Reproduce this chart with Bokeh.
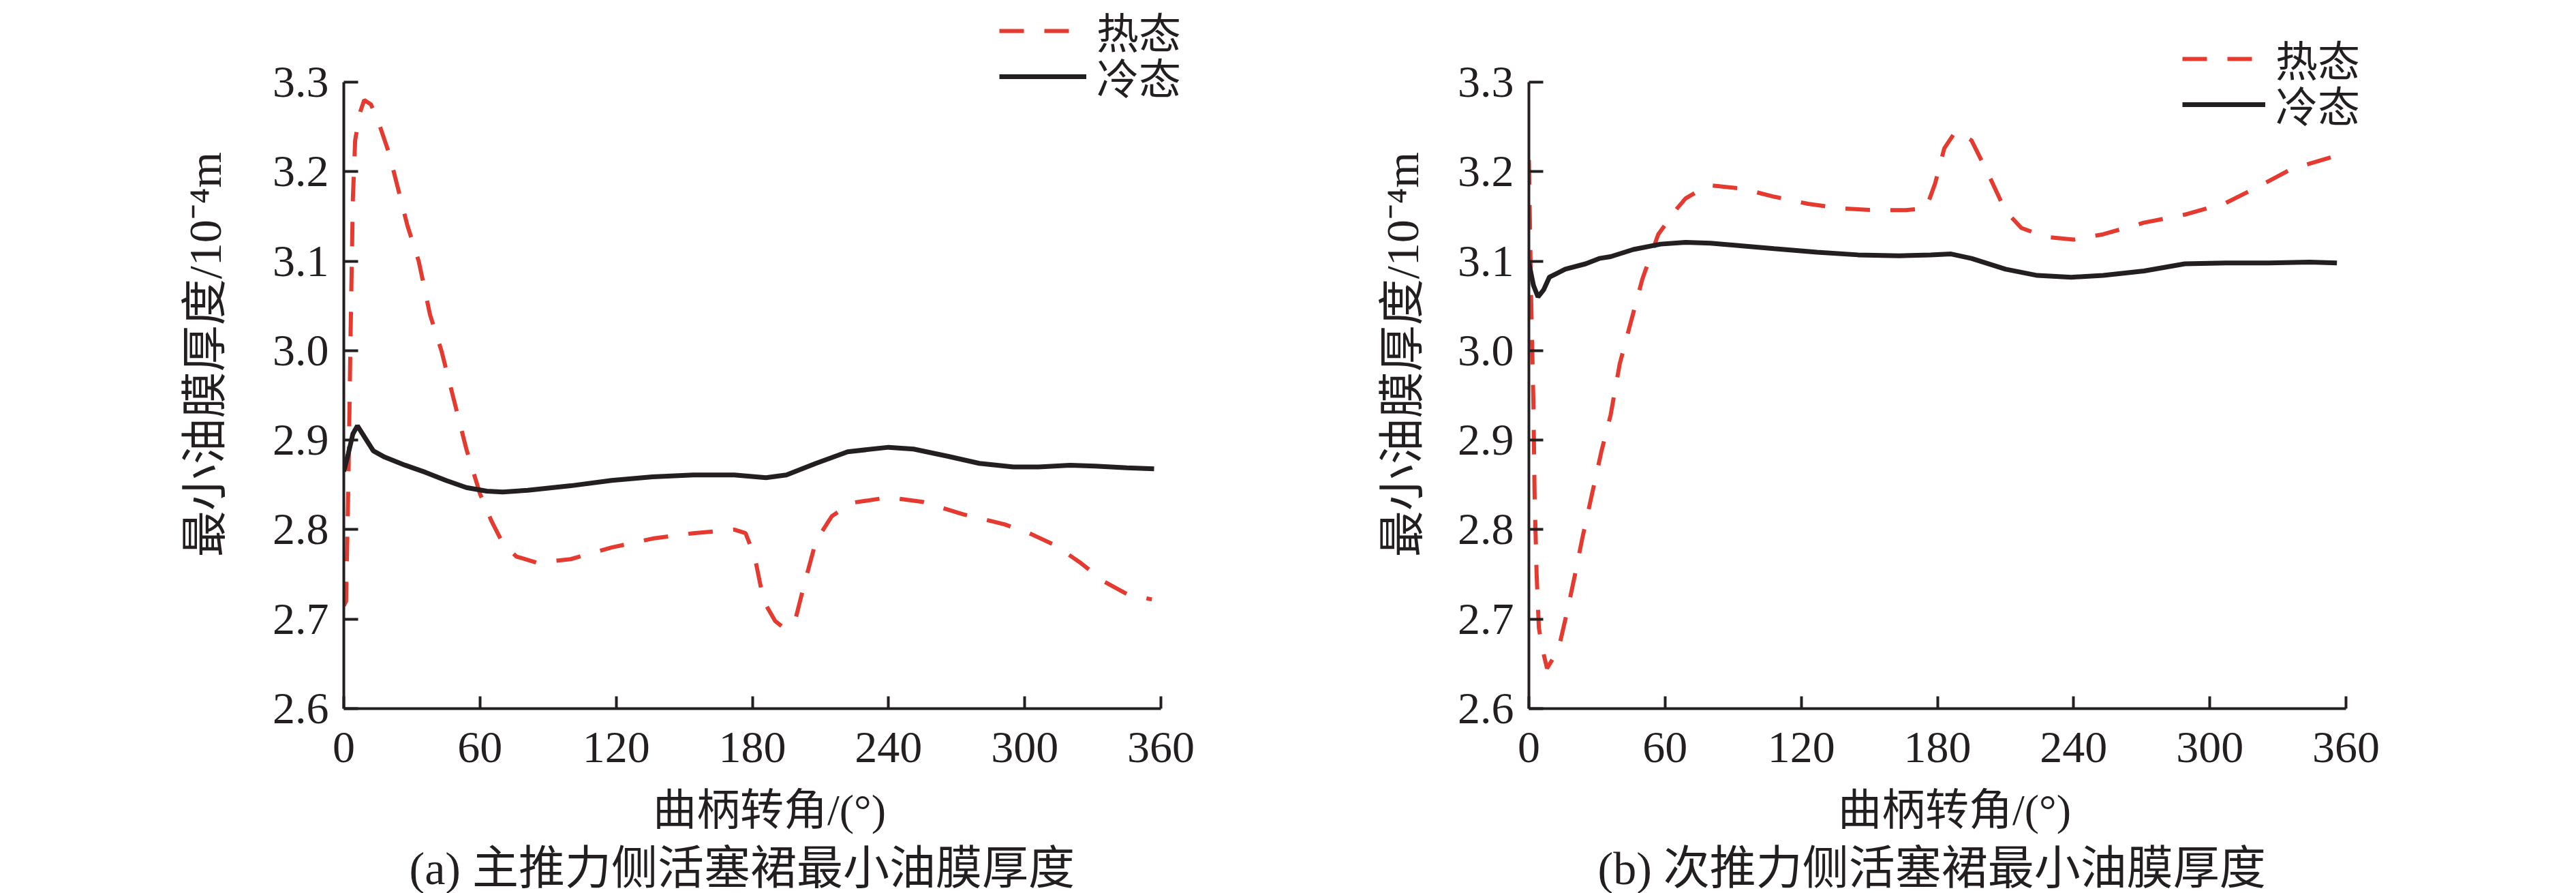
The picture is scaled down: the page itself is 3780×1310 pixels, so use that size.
from bokeh.plotting import figure
from bokeh.layouts import row
from bokeh.models import Range1d, FixedTicker, PrintfTickFormatter, Legend, LegendItem, Title
from bokeh.embed import file_html
from bokeh.resources import INLINE

# ---------------- data ----------------
x_ticks = [0, 60, 120, 180, 240, 300, 360]
y_ticks = [2.6, 2.7, 2.8, 2.9, 3.0, 3.1, 3.2, 3.3]
series_names = ["热态", "冷态"]

# (a) main thrust side
a_hot_deg = [0, 1, 2, 3, 4, 5, 7, 9, 12, 16, 20, 24, 28, 33, 38, 43, 49, 54, 60, 65, 70, 76, 85,
             100, 118, 136, 154, 172, 177, 181, 185, 190, 194, 199, 203, 208, 215, 224, 240, 255,
             273, 291, 302, 313, 324, 335, 345, 356]
a_hot_val = [2.715, 2.72, 2.85, 3.02, 3.17, 3.235, 3.265, 3.28, 3.275, 3.25, 3.22, 3.18, 3.14, 3.10,
             3.04, 3.00, 2.94, 2.89, 2.84, 2.81, 2.785, 2.77, 2.763, 2.767, 2.78, 2.79, 2.796, 2.80,
             2.796, 2.77, 2.72, 2.698, 2.69, 2.70, 2.74, 2.787, 2.815, 2.83, 2.836, 2.831, 2.817,
             2.806, 2.796, 2.783, 2.764, 2.742, 2.728, 2.722]
a_cold_deg = [0, 2, 4, 6, 9, 13, 18, 27, 36, 45, 54, 63, 70, 81, 100, 118, 136, 154, 172, 186,
              195, 208, 222, 240, 251, 266, 280, 295, 306, 320, 331, 345, 357]
a_cold_val = [2.865, 2.885, 2.907, 2.916, 2.904, 2.888, 2.881, 2.872, 2.864, 2.855, 2.847, 2.843,
              2.842, 2.844, 2.849, 2.855, 2.859, 2.861, 2.861, 2.858, 2.861, 2.874, 2.887, 2.892,
              2.890, 2.882, 2.874, 2.870, 2.870, 2.872, 2.871, 2.869, 2.868]

# (b) secondary thrust side
b_hot_deg = [0, 1, 2, 2.5, 3.4, 4.4, 6, 8, 13, 17, 20.5, 23.5, 28, 32, 36, 40, 44.5, 50, 57, 65,
             69, 79, 94, 108, 123, 137, 152, 166, 175, 179, 183, 188, 195, 203, 210, 217, 228,
             240, 253, 271, 289, 307, 322, 336, 356]
b_hot_val = [3.213, 3.056, 2.94, 2.84, 2.75, 2.69, 2.666, 2.645, 2.666, 2.71, 2.752, 2.79, 2.842,
             2.888, 2.928, 2.985, 3.028, 3.08, 3.13, 3.158, 3.17, 3.185, 3.181, 3.172, 3.164,
             3.159, 3.157, 3.157, 3.159, 3.187, 3.226, 3.245, 3.235, 3.194, 3.156, 3.137, 3.127,
             3.124, 3.13, 3.143, 3.152, 3.165, 3.184, 3.203, 3.218]
b_cold_deg = [0, 2, 4, 6.5, 9, 16, 25, 31, 36, 46, 58, 69, 80, 94, 108, 127, 145, 163, 177, 186,
              195, 210, 224, 239, 253, 271, 289, 307, 326, 344, 356]
b_cold_val = [3.098, 3.073, 3.06, 3.068, 3.082, 3.091, 3.097, 3.103, 3.105, 3.113, 3.119, 3.121,
              3.12, 3.117, 3.114, 3.11, 3.107, 3.106, 3.107, 3.108, 3.103, 3.091, 3.084, 3.082,
              3.084, 3.089, 3.097, 3.098, 3.098, 3.099, 3.098]

x_label = "曲柄转角/(°)"
y_label = "最小油膜厚度/10⁻⁴m"
captions = ["(a) 主推力侧活塞裙最小油膜厚度", "(b) 次推力侧活塞裙最小油膜厚度"]

# ---------------- style ----------------
FONT = "'Liberation Serif', 'Noto Sans CJK SC'"
INK = "#231f20"
RED = "#e53a2f"

PX_PER_DEG = 1199 / 360.0      # pixel scale of the 0..360 axis
PX_PER_VAL = 919 / 0.7         # pixel scale of the 2.6..3.3 axis
EXTRA_RIGHT = 50               # frame room right of 360 (for legend text)
ROW_H = 90                     # height of one legend entry
FRAME_H = 919 + 120            # frame reaches the top of the canvas


def one_legend(renderer, label, center_y, left_x, glyph_w):
    # center_y: legend row centre, in px from the canvas top
    loc = (left_x, FRAME_H - (center_y + ROW_H / 2))
    return Legend(items=[LegendItem(label=label, renderers=[renderer])],
                  location=loc, orientation="vertical",
                  glyph_width=glyph_w, glyph_height=ROW_H, label_height=ROW_H,
                  label_standoff=15, padding=0, margin=0, spacing=0,
                  border_line_color=None, background_fill_alpha=0,
                  label_text_font=FONT, label_text_font_size="62px",
                  label_text_color=INK)


def make_panel(hot_x, hot_y, cold_x, cold_y, caption, min_left,
               hot_cy, cold_cy, leg_x, glyph_w, ylab_standoff, cap_offset):
    frame_w = 1199 + EXTRA_RIGHT
    p = figure(title=None, frame_width=frame_w, frame_height=FRAME_H,
               min_border_left=min_left, min_border_right=1882 - min_left - frame_w,
               min_border_top=0, min_border_bottom=255,
               x_range=Range1d(0, 360 + EXTRA_RIGHT / PX_PER_DEG),
               y_range=Range1d(2.6, 3.3 + 120 / PX_PER_VAL),
               output_backend="svg", toolbar_location=None,
               background_fill_color="white", border_fill_color="white")
    p.outline_line_color = None
    p.xgrid.visible = False
    p.ygrid.visible = False

    r_hot = p.line(hot_x, hot_y, line_color=RED, line_width=6, line_dash="36 30")
    r_cold = p.line(cold_x, cold_y, line_color=INK, line_width=7)

    for ax in (p.xaxis[0], p.yaxis[0]):
        ax.axis_line_color = INK
        ax.axis_line_width = 4
        ax.major_tick_line_color = INK
        ax.major_tick_line_width = 4
        ax.major_tick_out = 0
        ax.minor_tick_line_color = None
        ax.major_label_text_font = FONT
        ax.major_label_text_font_size = "66px"
        ax.major_label_text_color = INK
        ax.axis_label_text_font = FONT
        ax.axis_label_text_font_style = "normal"
        ax.axis_label_text_color = INK

    p.xaxis.axis_label_text_font_size = "64px"
    p.yaxis.axis_label_text_font_size = "68px"
    p.xaxis.bounds = (0, 360)
    p.yaxis.bounds = (2.6, 3.3)
    p.xaxis.ticker = FixedTicker(ticks=x_ticks)
    p.yaxis.ticker = FixedTicker(ticks=y_ticks)
    p.yaxis.formatter = PrintfTickFormatter(format="%.1f")
    p.xaxis.major_tick_in = 18
    p.yaxis.major_tick_in = 21
    p.xaxis.major_label_standoff = 35
    p.yaxis.major_label_standoff = 22
    p.xaxis.axis_label = x_label
    p.yaxis.axis_label = y_label
    p.xaxis.axis_label_standoff = 32
    p.yaxis.axis_label_standoff = ylab_standoff

    p.add_layout(one_legend(r_hot, series_names[0], hot_cy, leg_x, glyph_w), "center")
    p.add_layout(one_legend(r_cold, series_names[1], cold_cy, leg_x, glyph_w), "center")

    cap = Title(text=caption, align="left", offset=cap_offset, standoff=14,
                text_font=FONT, text_font_size="68px", text_font_style="normal",
                text_color=INK)
    p.add_layout(cap, "below")
    return p


pa = make_panel(a_hot_deg, a_hot_val, a_cold_deg, a_cold_val, captions[0],
                504, 45, 112, 962, 128, 58, 96)
pb = make_panel(b_hot_deg, b_hot_val, b_cold_deg, b_cold_val, captions[1],
                361, 86, 153, 959, 122, 40, 101)

layout = row(pa, pb)
open("out.html", "w").write(file_html(layout, INLINE))
